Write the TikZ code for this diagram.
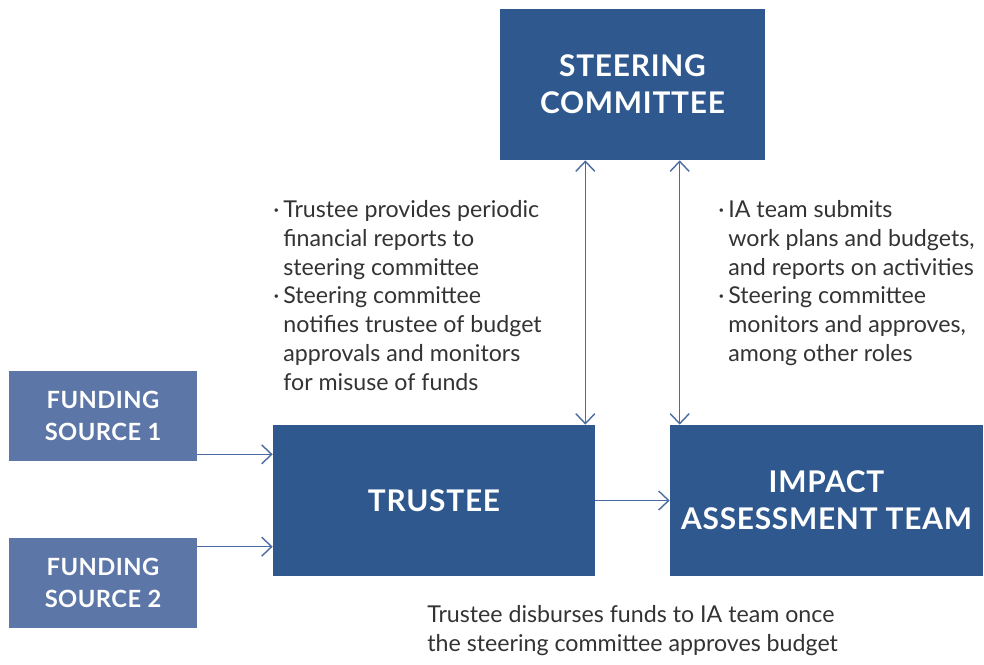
\documentclass[tikz,border=0pt]{standalone}
\usepackage{fontspec}
\setmainfont{Lato}
\usepackage{tikz}
\usetikzlibrary{arrows.meta}
\definecolor{BoxBlue}{RGB}{47,89,142}
\definecolor{FundBlue}{RGB}{92,118,167}
\definecolor{LineBlue}{RGB}{74,108,160}
\definecolor{TextGrey}{RGB}{51,51,51}

\begin{document}
\begin{tikzpicture}[x=0.02cm, y=-0.02cm,
    mainbox/.style={fill=BoxBlue, text=white, inner sep=0pt, align=center,
        font=\fontsize{17}{21}\selectfont\bfseries\addfontfeatures{LetterSpace=2.5}},
    fundbox/.style={fill=FundBlue, text=white, inner sep=0pt, align=center,
        minimum width=3.76cm, minimum height=1.8cm,
        font=\fontsize{13.5}{18.5}\selectfont\bfseries\addfontfeatures{LetterSpace=2}},
    note/.style={text=TextGrey, inner sep=0pt, align=left, anchor=north west,
        font=\fontsize{13.2}{16.4}\selectfont},
    link/.style={LineBlue, line width=0.8pt, -{Straight Barb[length=2mm, width=3.8mm]}},
    twolink/.style={link, {Straight Barb[length=2mm, width=3.8mm]}-{Straight Barb[length=2mm, width=3.8mm]}}]

    \useasboundingbox (0,0) rectangle (984,664);

    %Boxes
    \node[mainbox, minimum width=5.3cm, minimum height=3.02cm] (steer) at (632.5,84.5) {STEERING\\COMMITTEE}; %Top
    \node[mainbox, minimum width=6.44cm, minimum height=3.02cm] (trustee) at (434,500.5) {TRUSTEE}; %Middle
    \node[mainbox, minimum width=6.26cm, minimum height=3.02cm] (ia) at (826.5,500.5) {IMPACT\\ASSESSMENT TEAM}; %Right
    \node[fundbox] (fs1) at (103,416) {FUNDING\\SOURCE 1}; %Upper funding
    \node[fundbox] (fs2) at (103,583) {FUNDING\\SOURCE 2}; %Lower funding

    %Arrows
    \draw[link] ([yshift=0.14cm]fs1.south east) -- ([yshift=0.14cm]fs1.south east -| trustee.west); %Funding 1 in
    \draw[link] ([yshift=-0.18cm]fs2.north east) -- ([yshift=-0.18cm]fs2.north east -| trustee.west); %Funding 2 in
    \draw[link] (trustee.east) -- (ia.west); %Disbursement
    \draw[twolink] ([xshift=-0.2cm]trustee.north east) -- ([xshift=-0.2cm]trustee.north east |- steer.south); %Trustee reports
    \draw[twolink] ([xshift=0.2cm]ia.north west) -- ([xshift=0.2cm]ia.north west |- steer.south); %IA reports

    %Notes
    \node[note] (lnote) at (283,200) {\llap{·\,}Trustee provides periodic\\financial reports to\\steering committee\\\llap{·\,}Steering committee\\notifies trustee of budget\\approvals and monitors\\for misuse of funds};
    \node[note] (rnote) at (728,200) {\llap{·\,}IA team submits\\work plans and budgets,\\and reports on activities\\\llap{·\,}Steering committee\\monitors and approves,\\among other roles};
    \node[note] (bnote) at (427,605) {Trustee disburses funds to IA team once\\the steering committee approves budget};

\end{tikzpicture}
\end{document}
